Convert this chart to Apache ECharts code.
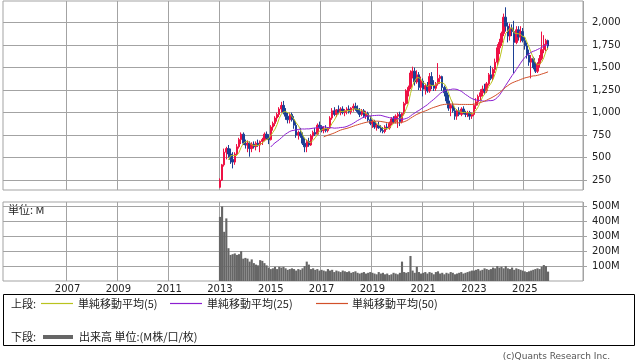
<!DOCTYPE html>
<html><head><meta charset="utf-8">
<script src="https://cdn.jsdelivr.net/npm/echarts@6/dist/echarts.min.js"></script>
<style>html,body{margin:0;padding:0;background:#fff;}#c{width:638px;height:362px;}</style>
</head><body><div id="c"></div>
<script>
// Monthly data, Jan 2013 .. Dec 2025
const firstYear = 2013;
const opens = [
  170,250,420,560,600,540,480,450,540,620,700,760,
  660,640,660,600,650,620,660,640,680,700,760,720,
  700,840,880,940,980,1040,1080,1000,960,920,980,920,
  860,750,780,740,660,620,680,640,740,780,760,860,
  840,800,820,800,830,940,1020,980,1030,1000,1040,1000,
  1020,1040,1010,1050,1070,1040,1010,980,1020,960,990,920,
  880,900,840,860,830,800,790,840,830,880,930,900,
  960,980,900,990,1100,1240,1280,1440,1460,1340,1420,1280,
  1350,1260,1300,1240,1400,1300,1270,1320,1380,1400,1280,1220,
  1130,1050,1080,1020,960,1020,980,1040,1000,980,1000,960,
  980,1080,1120,1180,1220,1260,1240,1320,1420,1380,1480,1560,
  1720,1780,1880,2060,1960,1850,1940,1900,1780,1920,1840,1900,
  1800,1740,1640,1560,1600,1500,1460,1540,1600,1700,1760,1800
];
const highs = [
  270,430,600,620,640,600,560,560,650,720,780,780,
  700,690,680,670,680,680,700,690,720,780,790,760,
  860,900,960,1000,1060,1120,1130,1050,1000,1000,1000,960,
  900,800,830,780,720,700,720,760,800,830,880,900,
  860,850,860,840,960,1050,1060,1040,1080,1060,1070,1040,
  1060,1080,1060,1100,1110,1080,1050,1040,1040,1020,1010,960,
  920,920,880,900,860,840,860,880,900,950,960,980,
  1000,1010,1000,1120,1260,1300,1470,1510,1500,1470,1450,1400,
  1380,1320,1340,1440,1450,1360,1340,1550,1420,1410,1300,1260,
  1200,1100,1120,1060,1040,1060,1060,1070,1020,1020,1020,1000,
  1100,1160,1200,1260,1300,1320,1340,1440,1520,1500,1600,1760,
  1820,1900,2100,2170,2000,1990,1980,2020,1960,1960,1960,1940,
  1840,1780,1700,1640,1620,1560,1560,1640,1900,1860,1820,1810
];
const lows = [
  165,240,400,480,500,430,380,420,520,600,650,640,
  600,560,510,560,600,580,620,560,640,680,700,650,
  690,800,850,900,950,1000,980,920,880,880,900,820,
  720,700,720,640,560,560,620,630,700,740,750,820,
  780,770,780,780,820,920,960,950,980,970,980,960,
  980,990,980,1010,1020,990,950,960,940,930,900,860,
  830,820,800,820,780,770,770,810,810,860,880,880,
  830,850,880,970,1080,1180,1260,1380,1300,1320,1250,1240,
  1180,1200,1220,1220,1260,1240,1240,1300,1320,1240,1180,1100,
  1020,960,1000,920,920,960,960,980,950,950,920,930,
  960,1040,1080,1140,1180,1200,1220,1300,1360,1350,1440,1520,
  1650,1740,1850,1900,1780,1800,1850,1440,1760,1800,1780,1780,
  1700,1600,1520,1380,1480,1440,1440,1500,1580,1660,1680,1700
];
const closes = [
  250,420,560,600,540,480,450,540,620,700,760,660,
  640,660,600,650,620,660,640,680,700,760,720,700,
  840,880,940,980,1040,1080,1000,960,920,980,920,860,
  750,780,740,660,620,680,640,740,780,760,860,840,
  800,820,800,830,940,1020,980,1030,1000,1040,1000,1020,
  1040,1010,1050,1070,1040,1010,980,1020,960,990,920,880,
  900,840,860,830,800,790,840,830,880,930,900,960,
  980,900,990,1100,1240,1280,1440,1460,1340,1420,1280,1350,
  1260,1300,1240,1400,1300,1270,1320,1380,1400,1280,1220,1130,
  1050,1080,1020,960,1020,980,1040,1000,980,1000,960,980,
  1080,1120,1180,1220,1260,1240,1320,1420,1380,1480,1560,1720,
  1780,1880,2060,1960,1850,1940,1900,1780,1920,1840,1900,1800,
  1740,1640,1560,1600,1500,1460,1540,1600,1700,1760,1800,1740
];
// volume in millions
const volumes = [
  430,500,330,420,220,175,180,185,175,180,200,150,
  155,150,130,145,120,110,105,140,135,120,105,90,
  80,85,95,80,95,90,95,85,75,80,85,80,
  70,80,75,85,100,130,110,80,85,75,80,70,
  75,70,65,80,70,75,60,70,65,60,70,65,
  60,65,55,60,65,55,50,55,60,50,55,60,
  55,50,45,60,50,55,45,50,40,45,55,50,
  45,55,130,60,55,60,168,70,55,96,60,50,
  55,60,50,60,55,45,60,65,50,55,45,55,
  50,60,55,45,50,55,60,50,55,60,65,70,
  70,75,80,70,75,85,80,75,80,90,85,100,
  90,95,85,100,85,80,90,75,85,80,75,70,
  65,60,65,70,75,80,85,80,95,107,100,63
];
const yearTicks = [2007,2009,2011,2013,2015,2017,2019,2021,2023,2025];
const priceTicks = [250,500,750,1000,1250,1500,1750,2000];
const volumeTicks = [100,200,300,400,500];
const maPeriods = [5,25,50];
const maNames = ['単純移動平均(5)','単純移動平均(25)','単純移動平均(50)'];
const maColors = ['#b9c31e','#8c1fd0','#d2502a'];

// axis months: Jul 2004 .. Apr 2027
const months = [];
for (let i = 0; i < 274; i++) {
  const t = 2004*12 + 6 + i;
  const y = Math.floor(t/12), m = t%12 + 1;
  months.push(y + '-' + (m < 10 ? '0' + m : m));
}
const offset = months.indexOf(firstYear + '-01');
const pad = (arr) => months.map((_, i) => {
  const k = i - offset;
  return (k >= 0 && k < arr.length) ? arr[k] : '-';
});
const candle = months.map((_, i) => {
  const k = i - offset;
  return (k >= 0 && k < closes.length) ? [opens[k], closes[k], lows[k], highs[k]] : '-';
});
function movingAverage(n) {
  const out = [];
  for (let k = 0; k < closes.length; k++) {
    if (k < n - 1) { out.push('-'); continue; }
    let s = 0; for (let j = k - n + 1; j <= k; j++) s += closes[j];
    out.push(+(s / n).toFixed(1));
  }
  return pad(out);
}
const isYearTick = (idx) => {
  const v = months[idx];
  return v.slice(5) === '01' && yearTicks.indexOf(+v.slice(0,4)) >= 0;
};
const gridColor = '#a3a3a3';
const labelFont = {fontFamily: 'DejaVu Sans', fontSize: 10, color: '#222'};
const cjk = '"Noto Sans CJK JP", sans-serif';

const chart = echarts.init(document.getElementById('c'), null, {renderer: 'canvas'});
const series = [{
  type: 'candlestick', xAxisIndex: 0, yAxisIndex: 0, data: candle, barWidth: '95%',
  itemStyle: {color: '#ee1144', color0: '#1b3f94', borderColor: '#ee1144', borderColor0: '#1b3f94', borderWidth: 1}
}];
maPeriods.forEach((p, i) => series.push({
  type: 'line', name: maNames[i], xAxisIndex: 0, yAxisIndex: 0, data: movingAverage(p),
  showSymbol: false, symbol: 'none', lineStyle: {width: 1, color: maColors[i]}, itemStyle: {color: maColors[i]}
}));
series.push({
  type: 'bar', xAxisIndex: 1, yAxisIndex: 1, data: pad(volumes), barCategoryGap: '0%',
  itemStyle: {color: '#666666'}
});

const xBase = {
  type: 'category', data: months, boundaryGap: true,
  axisLine: {show: false}, axisTick: {show: false},
  splitLine: {show: true, interval: isYearTick, lineStyle: {color: gridColor, width: 1}}
};
chart.setOption({
  animation: false,
  grid: [
    {left: 3, top: 1, width: 580, height: 189, show: true, borderColor: gridColor, borderWidth: 1},
    {left: 3, top: 202, width: 580, height: 79, show: true, borderColor: gridColor, borderWidth: 1}
  ],
  xAxis: [
    Object.assign({}, xBase, {gridIndex: 0, axisLabel: {show: false}}),
    Object.assign({}, xBase, {gridIndex: 1, axisLabel: Object.assign({show: true, interval: isYearTick, margin: 3,
      formatter: (v) => v.slice(0,4)}, labelFont)})
  ],
  yAxis: [
    {type: 'value', gridIndex: 0, position: 'right', min: 140, max: 2240,
     axisLine: {show: false},
     axisTick: {show: true, length: 4, customValues: priceTicks, lineStyle: {color: gridColor}},
     axisLabel: Object.assign({customValues: priceTicks, margin: 9,
       formatter: (v) => v.toLocaleString('en-US')}, labelFont),
     splitLine: {show: true, lineStyle: {color: gridColor, width: 1}}},
    {type: 'value', gridIndex: 1, position: 'right', min: 0, max: 530,
     axisLine: {show: false},
     axisTick: {show: true, length: 4, customValues: volumeTicks, lineStyle: {color: gridColor}},
     axisLabel: Object.assign({customValues: volumeTicks, margin: 9, formatter: (v) => v + 'M'}, labelFont),
     splitLine: {show: true, lineStyle: {color: gridColor, width: 1}}}
  ],
  series: series,
  graphic: [
    {type: 'text', left: 8, top: 204, style: {text: '単位: M', font: '11px ' + cjk, fill: '#222'}},
    {type: 'rect', shape: {x: 3.5, y: 294.5, width: 631, height: 51}, style: {fill: 'none', stroke: '#000', lineWidth: 1}},
    {type: 'text', x: 11, y: 303.5, style: {text: '上段:', font: '11px ' + cjk, fill: '#222', verticalAlign: 'middle'}},
    {type: 'line', shape: {x1: 41, y1: 303.5, x2: 73, y2: 303.5}, style: {stroke: maColors[0], lineWidth: 1.2}},
    {type: 'text', x: 78, y: 303.5, style: {text: maNames[0], font: '11px ' + cjk, fill: '#222', verticalAlign: 'middle'}},
    {type: 'line', shape: {x1: 170, y1: 303.5, x2: 202, y2: 303.5}, style: {stroke: maColors[1], lineWidth: 1.2}},
    {type: 'text', x: 207, y: 303.5, style: {text: maNames[1], font: '11px ' + cjk, fill: '#222', verticalAlign: 'middle'}},
    {type: 'line', shape: {x1: 316, y1: 303.5, x2: 348, y2: 303.5}, style: {stroke: maColors[2], lineWidth: 1.2}},
    {type: 'text', x: 352, y: 303.5, style: {text: maNames[2], font: '11px ' + cjk, fill: '#222', verticalAlign: 'middle'}},
    {type: 'text', x: 11, y: 337, style: {text: '下段:', font: '11px ' + cjk, fill: '#222', verticalAlign: 'middle'}},
    {type: 'line', shape: {x1: 43, y1: 337, x2: 73, y2: 337}, style: {stroke: '#666666', lineWidth: 4}},
    {type: 'text', x: 79, y: 337, style: {text: '出来高 単位:(M株/口/枚)', font: '11px ' + cjk, fill: '#222', verticalAlign: 'middle'}},
    {type: 'text', x: 610, y: 357, style: {text: '(c)Quants Research Inc.', font: '9px "DejaVu Sans"', fill: '#555', align: 'right', verticalAlign: 'middle'}}
  ]
});
</script></body></html>
